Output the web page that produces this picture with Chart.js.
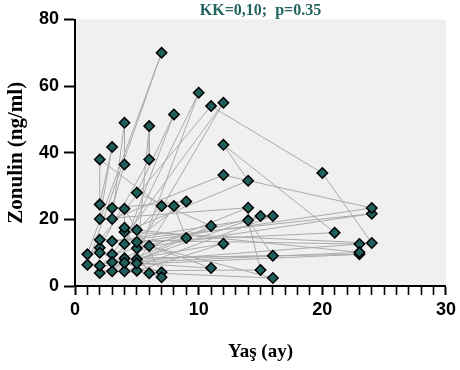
<!DOCTYPE html>
<html><head><meta charset="utf-8">
<script src="https://cdn.jsdelivr.net/npm/chart.js@4/dist/chart.umd.min.js"></script>
<style>html,body{margin:0;padding:0;background:#fff}</style>
</head><body>
<canvas id="c" width="460" height="370"></canvas>
<script>
// Data (age in months, zonulin ng/ml), in connection order
const ages = [5,24,3,16,4,12,3,15,2,11,5,8,4,10,5,6,6,2,1,7,1,23,2,11,20,24,4,14,12,21,5,24,12,3,4,4,3,9,2,23,4,16,14,15,5,12,3,14,2,3,2,2,7,5,23,4,11,6,16,3,9,8,5,7,4,4,6,7,2];
const zonulin = [11.3,21.7,13.4,21,4.4,55,9.5,21,3.9,18,28,51.5,12.6,58,8,48,38,11.5,9.5,70,6.4,12.6,13.9,54,33.9,12.9,16.2,31.6,42.4,16,13.2,23.4,33.3,20.1,49,36.5,23.4,25.4,6.1,9.5,8.3,9.1,19.7,4.8,4.6,12.7,7.1,23.5,20.1,41.7,24.5,38,24,16.8,10.1,7,5.4,12,2.4,4.4,14.4,24,6.8,4.1,23.2,17.5,3.8,2.6,10];
const xRange = [0, 30];
const xMajorStep = 10;
const yRange = [0, 80];
const yStep = 20;
const chartTitle = 'KK=0,10;  p=0.35';
const xTitle = 'Yaş (ay)';
const yTitle = 'Zonulin (ng/ml)';

const points = ages.map((a,i)=>({x:a,y:zonulin[i]}));

const bgPlugin = {
  id:'bgPlugin',
  beforeDraw(chart){
    const ctx = chart.ctx, a = chart.chartArea;
    ctx.save();
    ctx.fillStyle = '#f0f0f0';
    ctx.fillRect(a.left, a.top, a.right - a.left, a.bottom - a.top);
    ctx.fillStyle = '#22625f';
    ctx.font = 'bold 16px "Liberation Serif", serif';
    ctx.textAlign = 'center';
    ctx.textBaseline = 'middle';
    ctx.fillText(chartTitle, (a.left + a.right) / 2, 11);
    ctx.restore();
  }
};

new Chart(document.getElementById('c'), {
  type:'scatter',
  data:{datasets:[{
    data: points,
    showLine:true,
    borderColor:'#ababab',
    borderWidth:1,
    pointStyle:'rectRot',
    pointRadius:5.2,
    pointBackgroundColor:'#1f5f5c',
    pointBorderColor:'#000',
    pointBorderWidth:1.5
  }]},
  options:{
    responsive:false,
    animation:false,
    layout:{padding:{top:19.5,right:13,left:0,bottom:0}},
    plugins:{
      legend:{display:false},
      tooltip:{enabled:false}
    },
    scales:{
      x:{type:'linear',min:xRange[0],max:xRange[1],
        grid:{display:true, drawOnChartArea:false, drawTicks:true, tickLength:9, color:'#000',
          tickColor:'#000', tickWidth:(c)=> (c.tick && c.tick.value % xMajorStep === 0) ? 2 : 1.6},
        border:{display:true, color:'#000', width:2},
        ticks:{stepSize:1, autoSkip:false, maxRotation:0, color:'#000', padding:4,
          callback:(v)=> (v % xMajorStep === 0 ? String(v) : ''),
          font:{family:'Liberation Sans',size:18,weight:'bold'}},
        title:{display:true,text:xTitle,color:'#000',padding:{top:15.6,bottom:7},
          font:{family:'Liberation Serif',size:19,weight:'bold',lineHeight:1.2}}
      },
      y:{type:'linear',min:yRange[0],max:yRange[1],
        grid:{display:true, drawOnChartArea:false, drawTicks:true, tickLength:11, color:'#000',
          tickColor:'#000', tickWidth:2},
        border:{display:true, color:'#000', width:2},
        ticks:{stepSize:yStep, color:'#000', padding:5,
          font:{family:'Liberation Sans',size:18,weight:'bold'}},
        title:{display:true,text:yTitle,color:'#000',padding:{top:6,bottom:7},
          font:{family:'Liberation Serif',size:21,weight:'bold',lineHeight:1}}
      }
    }
  },
  plugins:[bgPlugin]
});
</script>
</body></html>
